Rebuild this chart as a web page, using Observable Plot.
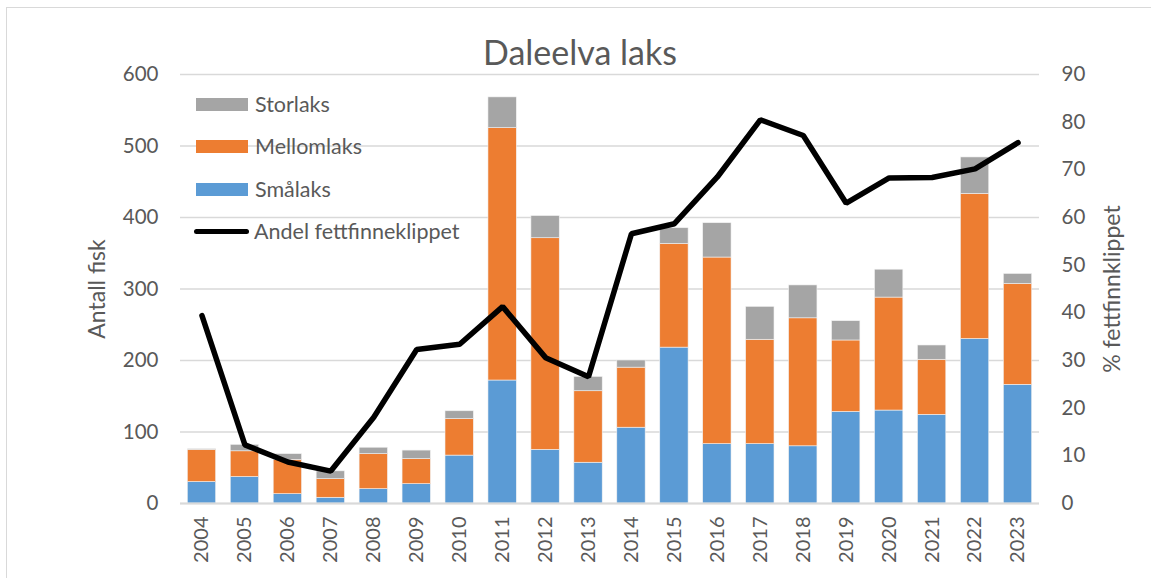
<!DOCTYPE html>
<html>
<head>
<meta charset="utf-8">
<script src="https://cdn.jsdelivr.net/npm/d3@7"></script>
<script src="https://cdn.jsdelivr.net/npm/@observablehq/plot@0.6"></script>
<style>
  html, body { margin: 0; padding: 0; background: #fff; }
  #wrap { position: relative; width: 1151px; height: 578px; overflow: hidden; font-family: Lato, "Open Sans", sans-serif; color: #595959; }
  #frame { position: absolute; left: 6px; top: 7px; width: 1200px; height: 700px; border-left: 1.5px solid #d9d9d9; border-top: 1.5px solid #d9d9d9; }
  #title { position: absolute; left: 0; width: 1160px; top: 33px; text-align: center; font-size: 34px; line-height: 38px; color: #595959; }
  #chart { position: absolute; left: 0; top: 0; }
  .leg { position: absolute; left: 194px; font-size: 21.5px; line-height: 22px; color: #595959; display: flex; align-items: center; }
  .sw { width: 52px; height: 13px; margin-right: 7px; }
  .ln { width: 55px; height: 5px; border-radius: 3px; background: #000; margin-right: 5px; }
</style>
</head>
<body>
<div id="wrap">
  <div id="frame"></div>
  <div id="chart"></div>
  <div id="title">Daleelva laks</div>
  <div id="legend"></div>
</div>
<script>
const years = ["2004","2005","2006","2007","2008","2009","2010","2011","2012","2013","2014","2015","2016","2017","2018","2019","2020","2021","2022","2023"];
const smalaks    = [30, 37, 13,  8, 20, 27, 67, 172,  75,  57, 106, 218,  83,  83,  80, 128, 130, 124, 230, 166];
const mellomlaks = [45, 36, 48, 26, 49, 35, 51, 353, 296, 100,  84, 145, 261, 146, 179, 100, 158,  77, 203, 141];
const storlaks   = [ 1,  9,  8, 11,  9, 12, 11,  43,  31,  20,  10,  22,  48,  46,  46,  27,  39,  20,  51,  14];
const andel      = [39.4, 12.3, 8.7, 6.8, 18.1, 32.3, 33.4, 41.3, 30.6, 26.6, 56.6, 58.7, 68.5, 80.5, 77.2, 63.0, 68.3, 68.4, 70.2, 75.7];
const seriesNames = ["Smålaks", "Mellomlaks", "Storlaks"];
const seriesColors = ["#5B9BD5", "#ED7D31", "#A5A5A5"];
const leftTicks = [0, 100, 200, 300, 400, 500, 600];
const rightTicks = [0, 10, 20, 30, 40, 50, 60, 70, 80, 90];
const lineName = "Andel fettfinneklippet";

const leftMax = 600, rightMax = 90;
const toLeft = v => v * leftMax / rightMax;

const bars = [];
years.forEach((y, i) => {
  bars.push({year: y, serie: seriesNames[0], value: smalaks[i]});
  bars.push({year: y, serie: seriesNames[1], value: mellomlaks[i]});
  bars.push({year: y, serie: seriesNames[2], value: storlaks[i]});
});
const lineData = years.map((y, i) => ({year: y, v: toLeft(andel[i])}));

const chart = Plot.plot({
  width: 1151,
  height: 578,
  marginTop: 74,
  marginBottom: 75,
  marginLeft: 180,
  marginRight: 112,
  style: {fontFamily: "Lato, 'Open Sans', sans-serif", color: "#595959", background: "transparent"},
  x: {domain: years, paddingInner: 0.34, paddingOuter: 0.17, round: false, label: null},
  y: {domain: [0, 600], label: null},
  color: {domain: seriesNames, range: seriesColors},
  marks: [
    Plot.gridY(leftTicks, {stroke: "#d9d9d9", strokeOpacity: 1, strokeWidth: 1.4}),
    Plot.barY(bars, {x: "year", y: "value", fill: "serie", stroke: "#f2f2f2", strokeWidth: 0.6}),
    Plot.ruleY([0], {stroke: "#d9d9d9", strokeWidth: 2}),
    Plot.line(lineData, {x: "year", y: "v", stroke: "#000", strokeWidth: 5.5, strokeLinejoin: "miter", strokeLinecap: "round"}),
    Plot.axisY({ticks: leftTicks, tickSize: 0, tickPadding: 22, fontSize: 20.5, label: null}),
    Plot.axisY({anchor: "right", ticks: rightTicks.map(toLeft), tickFormat: d => String(Math.round(d * rightMax / leftMax)), tickSize: 0, tickPadding: 22, fontSize: 20.5, label: null}),
    Plot.axisX({tickSize: 0, tickRotate: -90, tickPadding: 13, fontSize: 20, label: null}),
    Plot.text(["Antall fisk"], {frameAnchor: "left", textAnchor: "middle", dx: -83, rotate: -90, fontSize: 23, fill: "#595959"}),
    Plot.text(["% fettfinnklippet"], {frameAnchor: "right", textAnchor: "middle", dx: 73, rotate: -90, fontSize: 23, fill: "#595959"})
  ]
});
document.getElementById("chart").appendChild(chart);

const legend = document.getElementById("legend");
const legItems = [
  {name: seriesNames[2], color: seriesColors[2], y: 104},
  {name: seriesNames[1], color: seriesColors[1], y: 146},
  {name: seriesNames[0], color: seriesColors[0], y: 189},
  {name: lineName, color: null, y: 231}
];
legItems.forEach(it => {
  const d = document.createElement("div");
  d.className = "leg";
  d.style.top = (it.y - 12) + "px";
  d.style.height = "24px";
  const s = document.createElement("div");
  if (it.color) { s.className = "sw"; s.style.background = it.color; s.style.marginLeft = "2px"; }
  else { s.className = "ln"; }
  const t = document.createElement("span");
  t.textContent = it.name;
  d.appendChild(s); d.appendChild(t);
  legend.appendChild(d);
});
</script>
</body>
</html>
